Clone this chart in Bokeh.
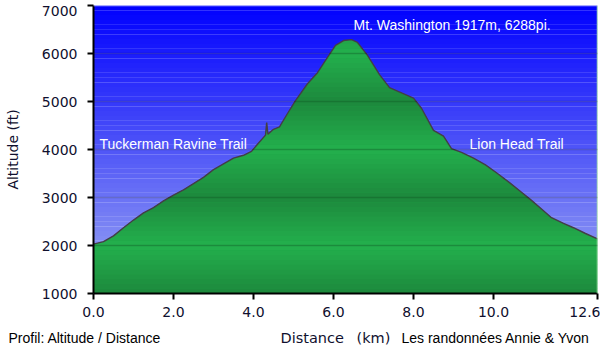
import numpy as np
from bokeh.plotting import figure
from bokeh.layouts import column
from bokeh.models import Label, FixedTicker, NumeralTickFormatter, Span, Range1d
from bokeh.embed import file_html
from bokeh.resources import INLINE

# ---- data ----
distance_km = [0.0, 0.25, 0.5, 0.75, 1.0, 1.25, 1.5, 1.75, 2.0, 2.25, 2.5, 2.75, 3.0,
               3.25, 3.5, 3.75, 3.95, 4.1, 4.3, 4.33, 4.36, 4.5, 4.65, 4.85, 5.05,
               5.35, 5.6, 5.85, 6.05, 6.25, 6.45, 6.6, 6.85, 7.15, 7.4, 7.7, 8.0,
               8.2, 8.5, 8.75, 8.95, 9.2, 9.5, 9.8, 10.1, 10.4, 10.7, 10.95, 11.2,
               11.45, 11.75, 12.0, 12.3, 12.6]
altitude_ft = [2030, 2080, 2200, 2370, 2530, 2680, 2790, 2930, 3050, 3160, 3290, 3420, 3580,
               3700, 3820, 3880, 3960, 4110, 4300, 4560, 4320, 4420, 4470, 4750, 5020,
               5370, 5600, 5920, 6170, 6270, 6288, 6230, 5960, 5560, 5290, 5180, 5070,
               4860, 4400, 4280, 4020, 3940, 3820, 3680, 3500, 3310, 3110, 2940, 2760,
               2580, 2460, 2370, 2250, 2140]
x_ticks = [0.0, 2.0, 4.0, 6.0, 8.0, 10.0, 12.6]
y_ticks = [1000, 2000, 3000, 4000, 5000, 6000, 7000]
summit_label = "Mt. Washington 1917m, 6288pi."
trail_left = "Tuckerman Ravine Trail"
trail_right = "Lion Head Trail"
y_title = "Altitude (ft)"
footer_left = "Profil: Altitude / Distance"
x_title = "Distance"
x_unit = "(km)"
footer_right = "Les randonnées Annie & Yvon"

X0, X1 = 0.0, 12.6
Y0, Y1 = 1000, 7000
W = 600
MH = 324          # main chart height
FH = 354 - MH     # footer strip height

p = figure(width=W, height=MH, output_backend="svg", toolbar_location=None,
           x_range=Range1d(X0, X1), y_range=Range1d(Y0, Y1),
           min_border_left=93, min_border_right=3, min_border_top=5, min_border_bottom=31)
p.background_fill_color = "white"
p.border_fill_color = "white"
p.outline_line_color = None

d = np.array(distance_km, dtype=float)
a = np.array(altitude_ft, dtype=float)

# ---- sky gradient (background) ----
n = 60
edges = np.linspace(Y0, Y1, n + 1)
cols = []
for i in range(n):
    t = 1 - (i + 0.5) / n  # 0 at top, 1 at bottom
    r = int(160 * t); g = int(172 * t); b = int(255 - 14 * t)
    cols.append("#%02x%02x%02x" % (r, g, b))
p.quad(left=X0, right=X1, bottom=edges[:-1], top=edges[1:] + 3, fill_color=cols, line_color=None)

# ---- green fill with altitude-dependent shading ----
step = 100
levels = np.arange(Y0, Y1 + 1, step)
# add the points where the profile crosses the shading levels (same polyline, exact geometry)
rx, ry = [d[0]], [a[0]]
for i in range(len(d) - 1):
    x0, y0, x1, y1 = d[i], a[i], d[i + 1], a[i + 1]
    lv = levels[(levels > min(y0, y1)) & (levels < max(y0, y1))]
    if len(lv):
        ts = np.sort((lv - y0) / (y1 - y0))
        for t in ts:
            rx.append(x0 + t * (x1 - x0)); ry.append(y0 + t * (y1 - y0))
    rx.append(x1); ry.append(y1)
rx = np.array(rx); ry = np.array(ry)

dark = np.array([0x1d, 0x88, 0x3c]); light = np.array([0x23, 0xb0, 0x4d])
p.varea(x=rx, y1=Y0, y2=ry, fill_color="#20a046")
for lo in levels[:-1]:
    if lo >= ry.max():
        break
    hi = lo + step
    mid = lo + step / 2
    phase = ((mid - 1000) % 2000) / 1000.0
    amt = 1 - abs(phase - 1)
    c = dark + (light - dark) * amt
    col = "#%02x%02x%02x" % tuple(int(round(v)) for v in c)
    p.varea(x=rx, y1=lo, y2=np.clip(ry, lo, hi + 2), fill_color=col)

p.line(d, a, line_color="#433e46", line_width=1.4)

# frame edges
p.add_layout(Span(location=X1, dimension="height", line_color="#9ee49e", line_width=1.5))
p.add_layout(Span(location=Y1, dimension="width", line_color="#b4b8ff", line_width=1.5))

# ---- axes ----
p.xgrid.visible = False
p.ygrid.level = "overlay"
p.ygrid.grid_line_color = "black"
p.ygrid.grid_line_alpha = 0.18
p.ygrid.grid_line_width = 1.3
p.ygrid.ticker = FixedTicker(ticks=y_ticks)

for ax in (p.xaxis[0], p.yaxis[0]):
    ax.axis_line_color = "black"
    ax.axis_line_width = 2
    ax.major_tick_line_color = "black"
    ax.major_tick_line_width = 2
    ax.major_tick_in = 0
    ax.major_tick_out = 6
    ax.minor_tick_line_color = None
    ax.major_label_text_font = "DejaVu Sans"
    ax.major_label_text_color = "#10102e"
    ax.major_label_text_font_size = "14px"
p.xaxis.ticker = FixedTicker(ticks=x_ticks)
p.xaxis.formatter = NumeralTickFormatter(format="0.0")
p.yaxis.ticker = FixedTicker(ticks=y_ticks)
p.yaxis.formatter = NumeralTickFormatter(format="0")
# top label sits just below its tick (as in the reference) so it is not cut by the edge
p.yaxis.major_label_overrides = {y_ticks[-1]: "\n" + str(y_ticks[-1])}
p.yaxis.major_label_text_line_height = 0.15
p.xaxis.major_label_standoff = 7
p.yaxis.major_label_standoff = 10
p.yaxis.axis_label = y_title
p.yaxis.axis_label_text_font = "DejaVu Sans"
p.yaxis.axis_label_text_font_style = "normal"
p.yaxis.axis_label_text_font_size = "14px"
p.yaxis.axis_label_text_color = "#10102e"
p.yaxis.axis_label_standoff = 18

# ---- texts inside the chart ----
def data_label(txt, px, py):
    p.add_layout(Label(x=(px - 93) / 40.0, y=1000 + (293 - py) / 0.048, text=txt,
                       text_color="white", text_font="Liberation Sans", text_font_size="14px",
                       text_baseline="middle", text_align="left"))

data_label(summit_label, 353, 24)
data_label(trail_left, 99, 143)
data_label(trail_right, 469, 143)

# ---- footer strip ----
f = figure(width=W, height=FH, output_backend="svg", toolbar_location=None,
           x_range=Range1d(0, W), y_range=Range1d(FH, 0),
           x_axis_location=None, y_axis_location=None,
           min_border_left=0, min_border_right=0, min_border_top=0, min_border_bottom=0)
f.outline_line_color = None
f.xgrid.visible = False
f.ygrid.visible = False
f.background_fill_color = "white"
f.border_fill_color = "white"
if "frame_align" in f.properties():
    f.frame_align = False
    p.frame_align = False

def foot(txt, px, py, color="black", font="Liberation Sans", size="14px"):
    f.add_layout(Label(x=px, y=py - MH, text=txt, text_color=color, text_font=font,
                       text_font_size=size, text_baseline="middle", text_align="left"))

foot(footer_left, 8, 337)
foot(x_title, 280, 337, color="#10102e", font="DejaVu Sans", size="14.5px")
foot(x_unit, 356, 337, color="#10102e", font="DejaVu Sans", size="14.5px")
foot(footer_right, 401, 337)

layout = column(p, f, spacing=0)
open("out.html", "w").write(file_html(layout, INLINE))
